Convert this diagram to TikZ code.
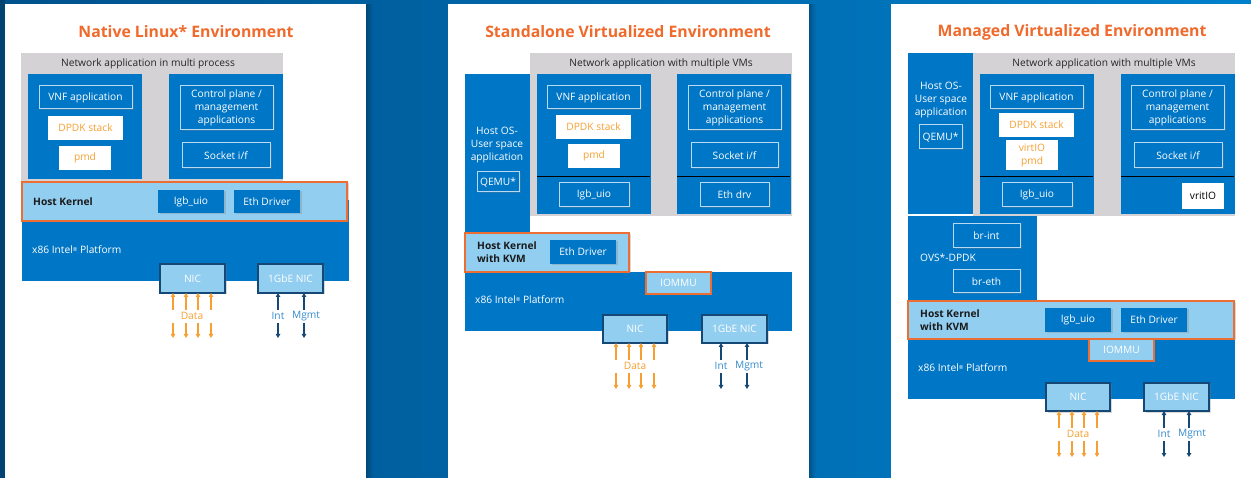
\documentclass[tikz,border=0pt]{standalone}
\usepackage{fontspec}
\setmainfont{Open Sans}
\usetikzlibrary{shadows,arrows.meta,fadings}
\definecolor{ib}{RGB}{0,118,198}
\definecolor{lb}{RGB}{146,206,240}
\definecolor{gbg}{RGB}{212,210,212}
\definecolor{kor}{RGB}{237,110,50}
\definecolor{torange}{RGB}{240,106,44}
\definecolor{dorange}{RGB}{247,160,50}
\definecolor{navy}{RGB}{22,72,118}
\definecolor{lblue}{RGB}{55,140,205}
\definecolor{ibord}{RGB}{185,218,242}
\definecolor{bgL}{RGB}{0,82,140}
\definecolor{bgR}{RGB}{0,128,204}
\newcommand\dfs{\fontsize{10.2}{13}\selectfont}
\newcommand\regm{\raisebox{0.45ex}{\fontsize{5.5}{6}\selectfont ®}}
\newcommand\bx[7]{\node[#6, minimum width={(#4-#2)*1pt}, minimum height={(#5-#3)*1pt}] (#1) at ({(#2+#4)/2},{(#3+#5)/2}) {#7};}
\tikzfading[name=fadeR, left color=transparent!0, right color=transparent!100]
\tikzset{
 sh/.style={drop shadow={shadow xshift=1.5pt,shadow yshift=-1.5pt,opacity=0.3}},
 base/.style={inner sep=0pt, outer sep=0pt, font=\dfs, align=center},
 panel/.style={base, fill=white},
 graybox/.style={base, fill=gbg},
 vm/.style={base, fill=ib},
 ibox/.style={base, fill=ib, draw=ibord, line width=1pt, text=white, sh},
 wbox/.style={base, fill=white, text=dorange},
 dbox/.style={base, fill=ib, text=white, sh},
 kern/.style={base, fill=lb, draw=kor, line width=1.5pt, sh},
 iommubox/.style={base, fill=lb, draw=kor, line width=1.5pt, text=white},
 nicbox/.style={base, fill=lb, draw=navy, line width=1.3pt, text=white, sh},
 lbl/.style={inner sep=0pt, font=\dfs, text=white, anchor=west},
 glbl/.style={inner sep=0pt, font=\dfs, text=black!85},
 klbl/.style={inner sep=0pt, font=\dfs\bfseries, text=black!90, anchor=west, align=left},
 ttl/.style={inner sep=0pt, font=\fontsize{15.8}{18}\selectfont\bfseries, text=torange},
 darr/.style={draw=dorange, line width=1.1pt, -{Triangle[length=4pt,width=4.5pt]}},
 iarr/.style={draw=navy, line width=1.1pt, -{Triangle[length=4pt,width=4.5pt]}},
 dlab/.style={inner sep=0pt, font=\dfs, text=dorange},
 ilab/.style={inner sep=0pt, font=\dfs, text=lblue},
 sep/.style={draw=black, line width=0.8pt},
}
\begin{document}
\begin{tikzpicture}[x=1pt,y=-1pt]
\useasboundingbox (0,0) rectangle (1251,478);
\shade[left color=bgL, right color=bgR] (0,0) rectangle (1251,478);
\fill[bgL!80!black] (0,0) rectangle (5,478);
% panel shadows
\fill[black, opacity=0.25, path fading=fadeR] (366,4) rectangle (373,478);
\fill[black, opacity=0.25, path fading=fadeR] (809,4) rectangle (816,478);
% panels
\bx{pan1}{5}{4}{366}{478}{panel}{}
\bx{pan2}{448}{4}{809}{478}{panel}{}
\bx{pan3}{891}{4}{1251}{478}{panel}{}
% titles
\node[ttl] (t1) at (186,32) {Native Linux* Environment};
\node[ttl] (t2) at (628,32) {Standalone Virtualized Environment};
\node[ttl] (t3) at (1072,32) {Managed Virtualized Environment};

%%%%%%%%%%%%%%%% Panel 1
\bx{g1}{21}{53}{283}{182}{graybox}{}
\node[glbl] (g1t) at (148,64) {Network application in multi process};
\bx{vm1l}{28}{74}{142}{179}{vm}{}
\bx{vm1r}{169}{74}{283}{179}{vm}{}
\bx{vnf1}{39}{86}{132}{109}{ibox}{VNF application}
\bx{dpdk1}{48}{116}{123}{140}{wbox}{DPDK stack}
\bx{pmd1}{59}{146}{111}{170}{wbox}{pmd}
\bx{ctrl1}{180}{86}{273}{130}{ibox}{Control plane /\\management\\applications}
\bx{sock1}{182}{143}{270}{168}{ibox}{Socket i/f}
\bx{plat1}{22}{200}{349}{281}{vm}{}
\bx{k1}{22}{182}{347}{221}{kern}{}
\node[klbl] (k1t) at (33,202) {Host Kernel};
\bx{igb1}{158}{190}{224}{213}{dbox}{Igb\_uio}
\bx{eth1}{234}{190}{300}{213}{dbox}{Eth Driver}
\node[lbl] (pl1) at (32,250) {x86 Intel\regm{} Platform};
\bx{nic1}{160}{264}{225}{293}{nicbox}{NIC}
\bx{gbe1}{258}{264}{323}{293}{nicbox}{1GbE NIC}
\foreach \i/\x in {1/173,2/186,3/198,4/211}{
  \coordinate (a1u\i) at (\x,310); \coordinate (a1d\i) at (\x,323); \coordinate (a1e\i) at (\x,338);
  \draw[darr] (a1u\i) -- (nic1.south -| a1u\i);
  \draw[darr] (a1d\i) -- (a1e\i);
}
\node[dlab] (d1) at (192,316) {Data};
\foreach \i/\x in {1/278,2/304}{
  \coordinate (b1u\i) at (\x,310); \coordinate (b1d\i) at (\x,323); \coordinate (b1e\i) at (\x,338);
  \draw[iarr] (b1u\i) -- (gbe1.south -| b1u\i);
  \draw[iarr] (b1d\i) -- (b1e\i);
}
\node[ilab] (i1) at (278,316) {Int};
\node[ilab] (m1) at (306,316) {Mgmt};

%%%%%%%%%%%%%%%% Panel 2
\bx{g2}{530}{53}{792}{216}{graybox}{}
\node[glbl] (g2t) at (661,64) {Network application with multiple VMs};
\bx{h2}{465}{74}{530}{236}{vm}{}
\node[base, text=white] (h2t) at (497,145) {Host OS-\\User space\\application};
\bx{q2}{477}{172}{519}{192}{ibox}{QEMU*}
\bx{vm2l}{537}{74}{651}{214}{vm}{}
\bx{vm2r}{677}{74}{791}{214}{vm}{}
\bx{vnf2}{547}{86}{640}{109}{ibox}{VNF application}
\bx{dpdk2}{556}{115}{631}{139}{wbox}{DPDK stack}
\bx{pmd2}{568}{144}{620}{168}{wbox}{pmd}
\coordinate (s2a) at (537,176); \coordinate (s2b) at (650,176);
\coordinate (s2c) at (677,176); \coordinate (s2d) at (790,176);
\draw[sep] (s2a) -- (s2b); \draw[sep] (s2c) -- (s2d);
\bx{igb2}{559}{183}{629}{207}{ibox}{Igb\_uio}
\bx{ctrl2}{688}{86}{781}{130}{ibox}{Control plane /\\management\\applications}
\bx{sock2}{691}{143}{778}{168}{ibox}{Socket i/f}
\bx{ethd2}{700}{183}{769}{207}{ibox}{Eth drv}
\bx{plat2}{465}{272}{792}{331}{vm}{}
\bx{k2}{465}{233}{629}{272}{kern}{}
\node[klbl] (k2t) at (477,252.5) {Host Kernel\\with KVM};
\bx{eth2}{550}{240}{616}{264}{dbox}{Eth Driver}
\bx{io2}{646}{272}{711}{294}{iommubox}{IOMMU}
\node[lbl] (pl2) at (475,300) {x86 Intel\regm{} Platform};
\bx{nic2}{603}{315}{667}{343}{nicbox}{NIC}
\bx{gbe2}{702}{315}{767}{343}{nicbox}{1GbE NIC}
\foreach \i/\x in {1/616,2/629,3/641,4/654}{
  \coordinate (a2u\i) at (\x,360); \coordinate (a2d\i) at (\x,373); \coordinate (a2e\i) at (\x,389);
  \draw[darr] (a2u\i) -- (nic2.south -| a2u\i);
  \draw[darr] (a2d\i) -- (a2e\i);
}
\node[dlab] (d2) at (635,366) {Data};
\foreach \i/\x in {1/721,2/747}{
  \coordinate (b2u\i) at (\x,360); \coordinate (b2d\i) at (\x,373); \coordinate (b2e\i) at (\x,389);
  \draw[iarr] (b2u\i) -- (gbe2.south -| b2u\i);
  \draw[iarr] (b2d\i) -- (b2e\i);
}
\node[ilab] (i2) at (721,366) {Int};
\node[ilab] (m2) at (749,366) {Mgmt};

%%%%%%%%%%%%%%%% Panel 3
\bx{h3}{908}{53}{973}{214}{vm}{}
\bx{g3}{973}{53}{1235}{216}{graybox}{}
\node[glbl] (g3t) at (1104,64) {Network application with multiple VMs};
\node[base, text=white] (h3t) at (941,100) {Host OS-\\User space\\application};
\bx{q3}{919}{125}{962}{149}{ibox}{QEMU*}
\bx{vm3l}{980}{74}{1094}{214}{vm}{}
\bx{vm3r}{1121}{74}{1235}{214}{vm}{}
\bx{vnf3}{990}{86}{1083}{109}{ibox}{VNF application}
\bx{dpdk3}{999}{113}{1074}{137}{wbox}{DPDK stack}
\bx{vpmd3}{1006}{140}{1058}{170}{wbox}{virtIO\\pmd}
\coordinate (s3a) at (980,176); \coordinate (s3b) at (1093,176);
\coordinate (s3c) at (1121,176); \coordinate (s3d) at (1234,176);
\draw[sep] (s3a) -- (s3b); \draw[sep] (s3c) -- (s3d);
\bx{igb3}{1002}{183}{1072}{207}{ibox}{Igb\_uio}
\bx{ctrl3}{1131}{86}{1224}{130}{ibox}{Control plane /\\management\\applications}
\bx{sock3}{1134}{143}{1222}{168}{ibox}{Socket i/f}
\bx{vrt3}{1182}{183}{1224}{209}{wbox, text=black}{vritIO}
\bx{ovs3}{908}{216}{1037}{301}{vm}{}
\bx{bri3}{953}{224}{1020}{248}{ibox}{br-int}
\node[lbl] (ovs3t) at (920,258) {OVS*-DPDK};
\bx{bre3}{953}{270}{1020}{293}{ibox}{br-eth}
\bx{plat3}{908}{339}{1235}{399}{vm}{}
\bx{k3}{908}{301}{1234}{339}{kern}{}
\node[klbl] (k3t) at (920,320.5) {Host Kernel\\with KVM};
\bx{igb3k}{1045}{308}{1111}{332}{dbox}{Igb\_uio}
\bx{eth3}{1121}{308}{1187}{332}{dbox}{Eth Driver}
\bx{io3}{1089}{339}{1154}{361}{iommubox}{IOMMU}
\node[lbl] (pl3) at (918,368) {x86 Intel\regm{} Platform};
\bx{nic3}{1046}{383}{1110}{411}{nicbox}{NIC}
\bx{gbe3}{1144}{383}{1209}{411}{nicbox}{1GbE NIC}
\foreach \i/\x in {1/1059,2/1072,3/1084,4/1097}{
  \coordinate (a3u\i) at (\x,428); \coordinate (a3d\i) at (\x,441); \coordinate (a3e\i) at (\x,457);
  \draw[darr] (a3u\i) -- (nic3.south -| a3u\i);
  \draw[darr] (a3d\i) -- (a3e\i);
}
\node[dlab] (d3) at (1078,434) {Data};
\foreach \i/\x in {1/1164,2/1189}{
  \coordinate (b3u\i) at (\x,428); \coordinate (b3d\i) at (\x,441); \coordinate (b3e\i) at (\x,457);
  \draw[iarr] (b3u\i) -- (gbe3.south -| b3u\i);
  \draw[iarr] (b3d\i) -- (b3e\i);
}
\node[ilab] (i3) at (1164,434) {Int};
\node[ilab] (m3) at (1192,434) {Mgmt};
\end{tikzpicture}
\end{document}
